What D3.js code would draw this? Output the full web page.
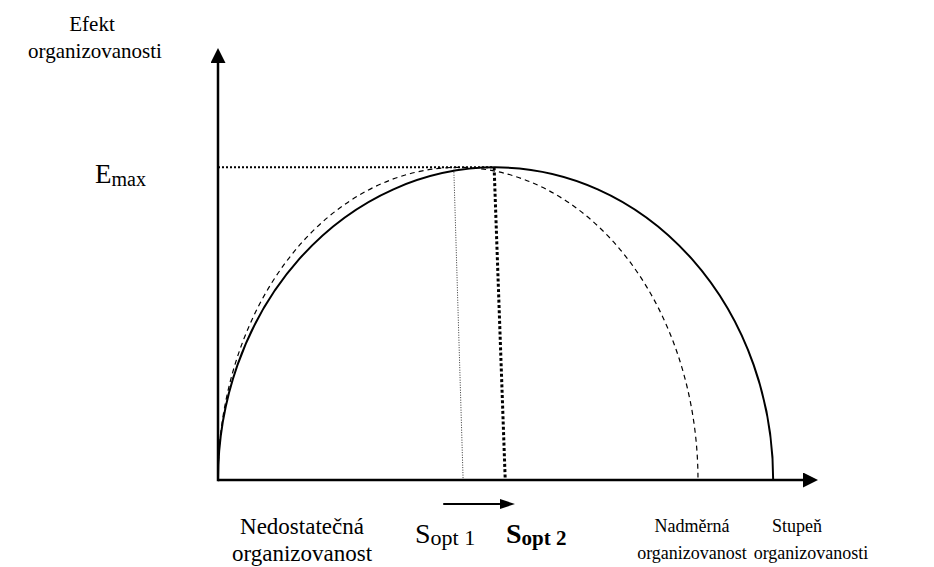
<!DOCTYPE html>
<html>
<head>
<meta charset="utf-8">
<script src="https://cdn.jsdelivr.net/npm/d3@7"></script>
<style>
  body { margin: 0; background: #fff; }
  text { font-family: "Liberation Serif", "Times New Roman", serif; fill: #000; }
</style>
</head>
<body>
<div id="chart"></div>
<script>
// curves (semi-ellipses): start, end on x axis, top value
var curveNames = ["křivka 2", "křivka 1"];
var curveStart = [0, 0];
var curveEnd = [94.9, 82.05];
var curveTop = [75, 75];

var emax = 75;
// S opt lines: x at the top (Emax) and at the bottom (x axis)
var optNames = ["S opt 1", "S opt 2"];
var optTopX = [40.3, 47.2];
var optBottomX = [41.9, 49.1];
// shift arrow under the axis
var shiftFrom = 38.5;
var shiftTo = 48.2;

var width = 934, height = 567;

var svg = d3.select("#chart").append("svg").attr("width", width).attr("height", height);

var x = d3.scaleLinear().domain([0, 100]).range([218, 803]);
var y = d3.scaleLinear().domain([0, 100]).range([480, 63]);

var defs = svg.append("defs");
defs.append("marker").attr("id", "head").attr("markerUnits", "userSpaceOnUse")
    .attr("markerWidth", 15).attr("markerHeight", 15).attr("refX", 0).attr("refY", 7.5)
    .attr("orient", "auto")
    .append("path").attr("d", "M0,0L15,7.5L0,15Z").attr("fill", "#000");
defs.append("marker").attr("id", "headSmall").attr("markerUnits", "userSpaceOnUse")
    .attr("markerWidth", 15).attr("markerHeight", 10).attr("refX", 0).attr("refY", 5)
    .attr("orient", "auto")
    .append("path").attr("d", "M0,0L15,5L0,10Z").attr("fill", "#000");

// Emax dotted line
svg.append("line").attr("x1", x(0)).attr("x2", x(optTopX[1])).attr("y1", y(emax)).attr("y2", y(emax))
    .attr("stroke", "#000").attr("stroke-width", 2).attr("stroke-dasharray", "2,2");

// S opt lines
svg.append("line").attr("x1", x(optTopX[0])).attr("y1", y(emax)).attr("x2", x(optBottomX[0])).attr("y2", y(0))
    .attr("stroke", "#333").attr("stroke-width", 1).attr("stroke-dasharray", "1,1.5");
svg.append("line").attr("x1", x(optTopX[1])).attr("y1", y(emax)).attr("x2", x(optBottomX[1])).attr("y2", y(0))
    .attr("stroke", "#000").attr("stroke-width", 3).attr("stroke-dasharray", "3,2.3");

// curves
var curveData = curveNames.map(function (n, i) {
    return { name: n, start: curveStart[i], end: curveEnd[i], top: curveTop[i] };
});
svg.append("g").selectAll("path").data(curveData).enter().append("path")
    .attr("d", function (c) {
        var rx = (x(c.end) - x(c.start)) / 2;
        var ry = y(0) - y(c.top);
        return "M" + x(c.start) + "," + y(0) + "A" + rx + "," + ry + " 0 0 1 " + x(c.end) + "," + y(0);
    })
    .attr("fill", "none").attr("stroke", "#000")
    .attr("stroke-width", function (c, i) { return i == 0 ? 2 : 1.2; })
    .attr("stroke-dasharray", function (c, i) { return i == 0 ? null : "5,4"; });

// axes
svg.append("line").attr("x1", x(0)).attr("y1", y(0)).attr("x2", x(100)).attr("y2", y(0))
    .attr("stroke", "#000").attr("stroke-width", 2.5).attr("marker-end", "url(#head)");
svg.append("line").attr("x1", x(0)).attr("y1", y(0) + 1.2).attr("x2", x(0)).attr("y2", y(100))
    .attr("stroke", "#000").attr("stroke-width", 2.5).attr("marker-end", "url(#head)");

// shift arrow
svg.append("line").attr("x1", x(shiftFrom)).attr("x2", x(shiftTo)).attr("y1", 504).attr("y2", 504)
    .attr("stroke", "#000").attr("stroke-width", 2).attr("marker-end", "url(#headSmall)");

// texts
function label(lines, cx, y0, dy, size) {
    var t = svg.append("text").attr("text-anchor", "middle").style("font-size", size + "px");
    lines.forEach(function (l, i) {
        t.append("tspan").attr("x", cx[i]).attr("y", y0 + i * dy).text(l);
    });
}
label(["Efekt", "organizovanosti"], [92, 95], 31, 27, 21);
label(["Nedostatečná", "organizovanost"], [302, 302], 534, 27, 23);
label(["Nadměrná", "organizovanost"], [692, 692], 532, 27, 18);
label(["Stupeň", "organizovanosti"], [797, 811], 532, 27, 18);

var em = svg.append("text").attr("x", 95).attr("y", 183).style("font-size", "27px");
em.append("tspan").text("E");
em.append("tspan").attr("dy", 3).style("font-size", "20px").text("max");

var s1 = svg.append("text").attr("x", 415).attr("y", 543).style("font-size", "28px");
s1.append("tspan").text("S");
s1.append("tspan").attr("dy", 2).style("font-size", "22px").text("opt 1");

var s2 = svg.append("text").attr("x", 506).attr("y", 543).style("font-size", "28px").style("font-weight", "bold");
s2.append("tspan").text("S");
s2.append("tspan").attr("dy", 2).style("font-size", "21px").text("opt 2");
</script>
</body>
</html>
